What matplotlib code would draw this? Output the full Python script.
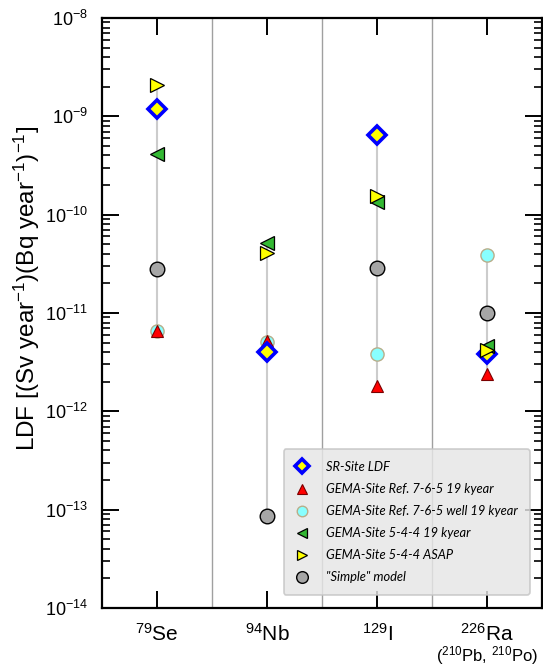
import numpy as np
import matplotlib
matplotlib.use("Agg")
import matplotlib.pyplot as plt
from matplotlib.ticker import LogLocator, NullFormatter

plt.rcParams['font.family'] = ['Liberation Sans', 'DejaVu Sans']
plt.rcParams['mathtext.fontset'] = 'custom'
plt.rcParams['mathtext.rm'] = 'Liberation Sans'
plt.rcParams['mathtext.it'] = 'Liberation Sans:italic'
plt.rcParams['mathtext.default'] = 'regular'

# Radionuclides
nuclides = ['Se-79', 'Nb-94', 'I-129', 'Ra-226']
tick_labels = [r'$^{79}$Se', r'$^{94}$Nb', r'$^{129}$I', r'$^{226}$Ra']
ra_note = r'($^{210}$Pb, $^{210}$Po)'

# LDF values [(Sv/yr)/(Bq/yr)] per model, one value per nuclide
sr_site = [1.2e-9, 4.0e-12, 6.5e-10, 3.8e-12]
gema_ref_765 = [6.6e-12, 5.2e-12, 1.8e-12, 2.4e-12]
gema_ref_765_well = [6.6e-12, 5.1e-12, 3.8e-12, 3.9e-11]
gema_544_19k = [4.1e-10, 5.1e-11, 1.35e-10, 4.6e-12]
gema_544_asap = [2.1e-9, 4.1e-11, 1.55e-10, 4.2e-12]
simple_model = [2.8e-11, 8.7e-14, 2.9e-11, 1.0e-11]

series_labels = ['SR-Site LDF', 'GEMA-Site Ref. 7-6-5 19 kyear',
                 'GEMA-Site Ref. 7-6-5 well 19 kyear', 'GEMA-Site 5-4-4 19 kyear',
                 'GEMA-Site 5-4-4 ASAP', '"Simple" model']

fig = plt.figure(figsize=(5.43, 6.66), dpi=100)
ax = fig.add_axes([102 / 543, 1 - 608 / 666, 440 / 543, 590 / 666])

x = np.arange(len(nuclides))

# range line per nuclide
all_vals = np.array([sr_site, gema_ref_765, gema_ref_765_well,
                     gema_544_19k, gema_544_asap, simple_model])
ax.vlines(x, all_vals.min(axis=0), all_vals.max(axis=0),
          color='#cccccc', lw=1.5, zorder=2)

# separators between nuclides
for xs in [0.5, 1.5, 2.5]:
    ax.axvline(xs, color='#a0a0a0', lw=1.0, zorder=1)

h_sr, = ax.plot(x, sr_site, ls='none', marker='D', ms=9, mfc='#ffff00',
                mec='#0000ff', mew=2.6, zorder=4)
h_well, = ax.plot(x, gema_ref_765_well, ls='none', marker='o', ms=9.5,
                  mfc='#88ffff', mec='#b8ae8a', mew=1.0, zorder=3)
h_ref, = ax.plot(x, gema_ref_765, ls='none', marker='^', ms=9,
                 mfc='#ff0000', mec='#7a0000', mew=0.8, zorder=3.5)
h_19k, = ax.plot(x, gema_544_19k, ls='none', marker='<', ms=9.5,
                 mfc='#33b833', mec='#000000', mew=0.9, zorder=4.5)
h_asap, = ax.plot(x, gema_544_asap, ls='none', marker='>', ms=9.5,
                  mfc='#ffff00', mec='#000000', mew=0.9, zorder=5)
h_simple, = ax.plot(x, simple_model, ls='none', marker='o', ms=10.5,
                    mfc='#a6a6a6', mec='#000000', mew=1.0, zorder=4)

ax.set_yscale('log')
ax.set_ylim(1e-14, 1e-8)
ax.set_xlim(-0.5, 3.5)

ax.yaxis.set_major_locator(LogLocator(base=10, numticks=20))
ax.yaxis.set_minor_locator(LogLocator(base=10, subs=np.arange(2, 10), numticks=20))
ax.yaxis.set_minor_formatter(NullFormatter())
ax.tick_params(axis='y', which='major', direction='in', length=12, width=1.4,
               right=True, labelsize=13, pad=10)
ax.tick_params(axis='y', which='minor', direction='in', length=6, width=1.2,
               right=True)

ax.set_xticks(x)
ax.set_xticklabels(tick_labels)
ax.tick_params(axis='x', which='major', direction='in', length=12, width=1.4,
               top=True, labelsize=15, pad=11)
ax.tick_params(axis='x', which='minor', bottom=False, top=False)

for sp in ax.spines.values():
    sp.set_linewidth(1.6)

ax.text(3, -0.080, ra_note, transform=ax.get_xaxis_transform(),
        ha='center', va='center', fontsize=12, clip_on=False)

fig.text(27 / 543, 1 - 126 / 666,
         r'LDF [(Sv year$^{-1}$)(Bq year$^{-1}$)$^{-1}$]',
         rotation=90, ha='center', va='top', fontsize=17.5)

leg = ax.legend([h_sr, h_ref, h_well, h_19k, h_asap, h_simple], series_labels,
                loc='lower right', bbox_to_anchor=(0.972, 0.022),
                prop={'family': 'Lato', 'style': 'italic', 'size': 9.3},
                fancybox=True, framealpha=0.82, facecolor='#e6e6e6',
                edgecolor='#c4c4c4', borderpad=0.9, labelspacing=0.78,
                handlelength=1.0, handletextpad=1.4, borderaxespad=0,
                markerscale=0.8)
leg.get_frame().set_linewidth(1.2)
leg.set_zorder(6)

fig.savefig('out.png', dpi=100)
